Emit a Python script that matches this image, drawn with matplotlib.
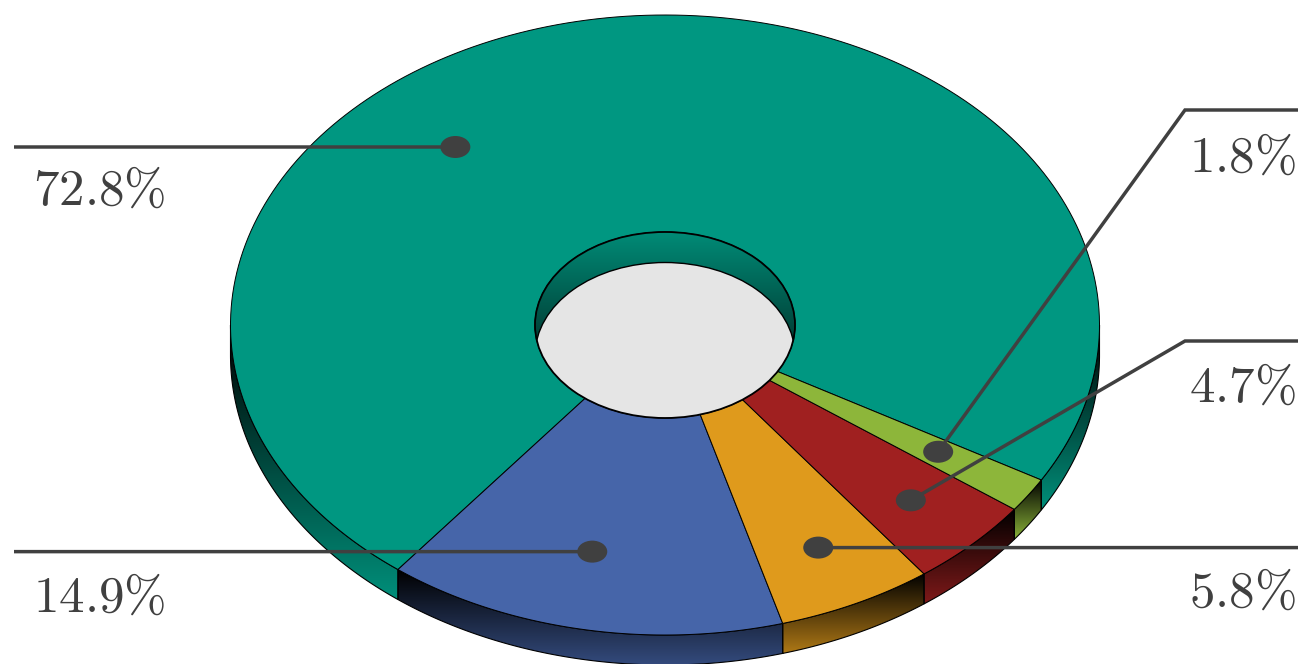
import numpy as np
import matplotlib
matplotlib.use("Agg")
import matplotlib.pyplot as plt
from matplotlib.colors import to_rgb
from matplotlib.patches import Ellipse, Polygon

plt.rcParams["mathtext.fontset"] = "cm"

# Shares of each slice, in percent, counter-clockwise from the right-hand edge of the teal one
labels = ["72.8", "14.9", "5.8", "4.7", "1.8"]
values = [72.8, 14.9, 5.8, 4.7, 1.8]
colors = ["#009781", "#4665a9", "#df9a1c", "#a02020", "#8db63a"]
wall_end = [0.95, 0.74, 0.78, 0.80, 0.97]

# Disc geometry, in pixels
CX, CY, RX, RY = 665.0, 325.0, 434.5, 310.0
HRX, HRY = 130.0, 93.0
DEPTH = 30.0
START = -30.0

# Leader styling: radial position, angular shift of the dot, elbow and text anchors
dot_radius = [0.75, 0.75, 0.80, 0.80, 0.75]
dot_shift = [29.0, -1.8, 0.0, -0.05, 0.2]
leader_bends = [[(14, None)], [(14, None)], [(1298, None)],
                [(1185, 341), (1298, 341)], [(1185, 110), (1298, 110)]]
text_pos = [(99, 205), (99, 612), (1242, 607), (1242, 402), (1242, 172)]
INK = "#404040"

fig = plt.figure(figsize=(12.98, 6.64), dpi=100, facecolor="white")
ax = fig.add_axes([0, 0, 1, 1])
ax.set_xlim(0, 1298)
ax.set_ylim(664, 0)
ax.axis("off")


def arc(t0, t1, rx=RX, ry=RY, dy=0.0, n=200):
    t = np.radians(np.linspace(t0, t1, n))
    return np.column_stack([CX + rx * np.cos(t), CY + dy - ry * np.sin(t)])


def gradient(clip_patch, y0, y1, rgb, f0, f1, zorder):
    ramp = np.linspace(f0, f1, 256)[:, None, None] * np.array(rgb)[None, None, :]
    im = ax.imshow(ramp, extent=(0, 1298, y1, y0), aspect="auto",
                   interpolation="bilinear", zorder=zorder)
    im.set_clip_path(clip_patch)


bounds = START + np.concatenate([[0], np.cumsum(values)]) * 3.6

# Front walls, clipped to the lower half of the disc; each visible piece shades top to bottom
for i, col in enumerate(colors):
    a0, a1 = bounds[i], bounds[i + 1]
    for shift in (-360, 0, 360):
        lo, hi = max(a0 + shift, 180), min(a1 + shift, 360)
        if lo >= hi:
            continue
        top = arc(lo, hi)
        pts = np.vstack([top, arc(lo, hi, dy=DEPTH)[::-1]])
        patch = Polygon(pts, closed=True, fc="none", ec="black", lw=0.8, zorder=3)
        ax.add_patch(patch)
        gradient(patch, top[:, 1].min(), top[:, 1].max() + DEPTH,
                 to_rgb(col), 0.0, wall_end[i], 2)

# Top faces of the ring
for i, col in enumerate(colors):
    a0, a1 = bounds[i], bounds[i + 1]
    pts = np.vstack([arc(a0, a1), arc(a0, a1, HRX, HRY)[::-1]])
    ax.add_patch(Polygon(pts, closed=True, fc=col, ec="black", lw=0.7, zorder=4))

# Central hole: inner wall above the floor seen through the opening
hole = Ellipse((CX, CY), 2 * HRX, 2 * HRY, fc="none", ec="black", lw=1.3, zorder=7)
ax.add_patch(hole)
gradient(hole, CY - HRY, CY + 15, to_rgb(colors[0]), 0.92, 0.42, 5)
floor = Ellipse((CX, CY + DEPTH + 0.5), 2 * HRX, 2 * HRY, fc="#e5e5e5", ec="black", lw=1.0, zorder=6)
ax.add_patch(floor)
floor.set_clip_path(hole)

# Leaders and their percentage labels
for i, label in enumerate(labels):
    mid = (bounds[i] + bounds[i + 1]) / 2 + dot_shift[i]
    t = np.radians(mid)
    dx = CX + dot_radius[i] * RX * np.cos(t)
    dy = CY - dot_radius[i] * RY * np.sin(t)
    xs, ys = [dx], [dy]
    for bx, by in leader_bends[i]:
        xs.append(bx)
        ys.append(dy if by is None else by)
    ax.plot(xs, ys, color=INK, lw=2.5, solid_joinstyle="miter",
            solid_capstyle="butt", zorder=8, snap=False)
    ax.add_patch(Ellipse((dx, dy), 30, 22, fc=INK, ec="none", zorder=9))
    tx, ty = text_pos[i]
    ax.text(tx, ty, rf"$\mathrm{{{label}\%}}$", color=INK, fontsize=36.8,
            ha="center", va="baseline", zorder=10)

fig.savefig("out.png", dpi=100, facecolor="white")
